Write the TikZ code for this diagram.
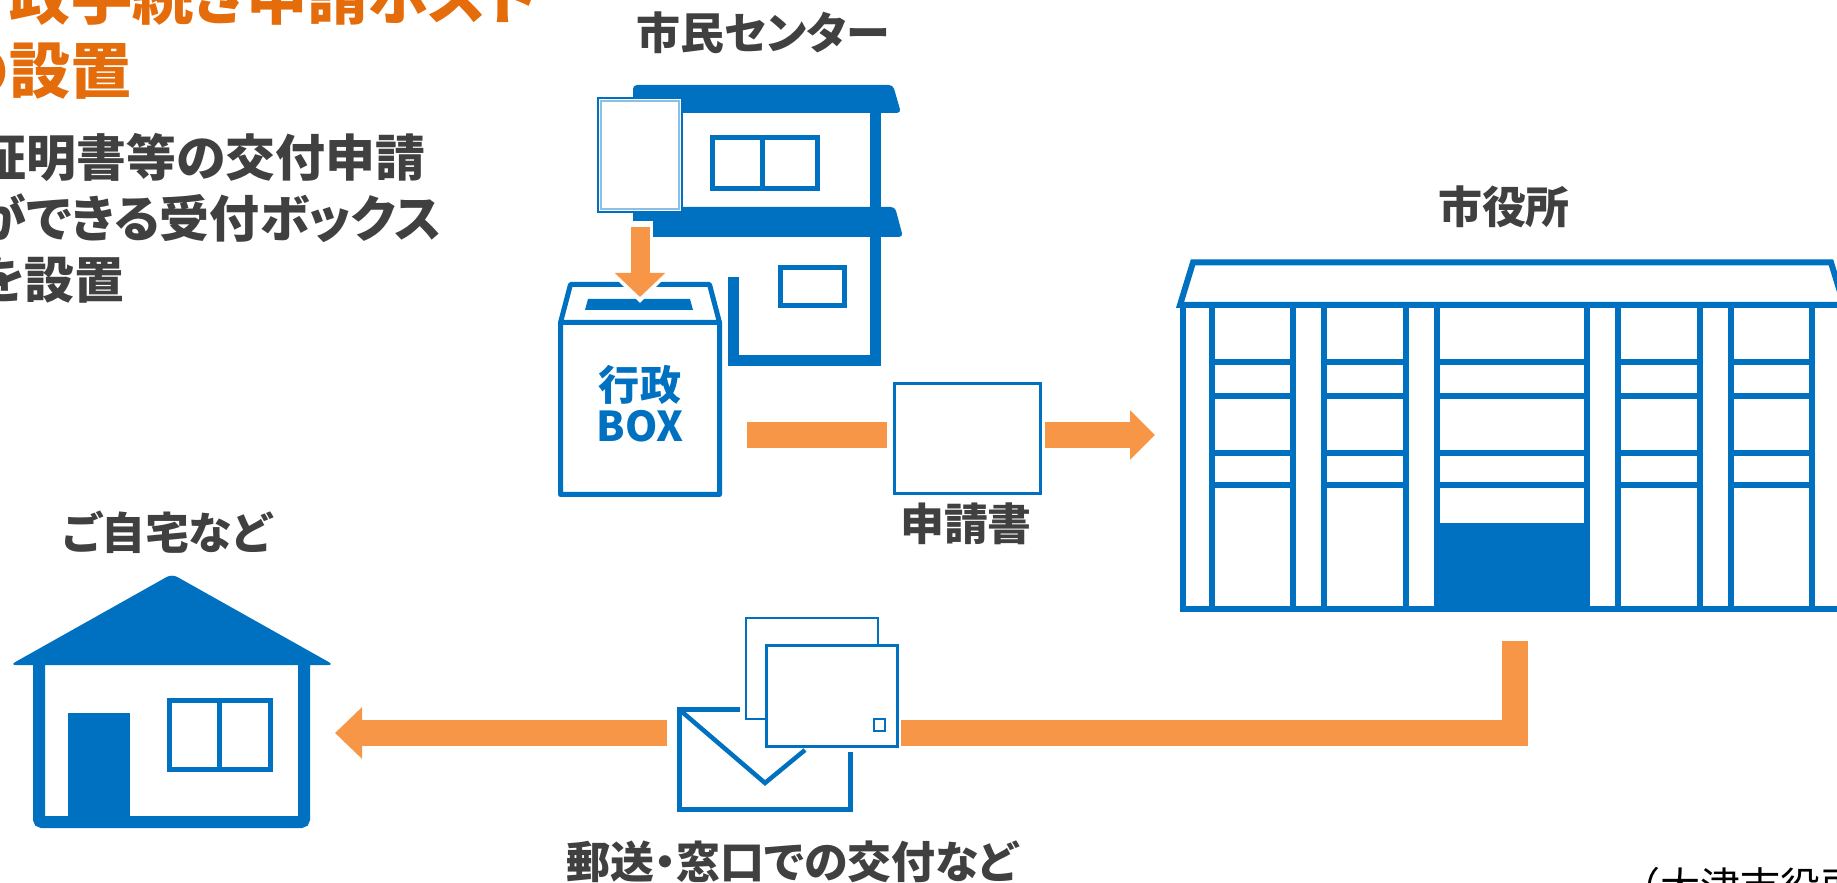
\documentclass[tikz,border=0pt]{standalone}
\usepackage{fontspec}
\setmainfont{Noto Sans CJK JP}[RawFeature=+palt]
\newfontfamily\srcfont{Noto Sans CJK JP}
\usetikzlibrary{arrows.meta,positioning}
\definecolor{cityblue}{RGB}{0,112,192}
\definecolor{flowcolor}{RGB}{247,150,70}
\definecolor{headcolor}{RGB}{228,108,10}
\definecolor{textgray}{RGB}{64,64,64}
\tikzset{
      flow/.style = {draw=flowcolor, line width=2.6mm, line join=miter},   % <--- thick orange flow
   flowarr/.style = {flow, -{Triangle[length=2.6mm, width=5mm]}},
      wall/.style = {draw=cityblue, line width=0.6mm, line join=miter},
      pane/.style = {draw=cityblue, line width=0.5mm},
     paper/.style = {draw=cityblue, fill=white, line width=0.3mm},
      head/.style = {font=\bfseries\fontsize{17.4pt}{21pt}\selectfont,
                     text=headcolor, inner sep=0pt},
      lead/.style = {font=\bfseries\fontsize{14.2pt}{17.4pt}\selectfont,
                     text=textgray, inner sep=0pt, align=left},
     label/.style = {font=\bfseries\fontsize{12.5pt}{15pt}\selectfont,
                     text=textgray, inner sep=0pt},
        }

\begin{document}
\begin{tikzpicture}[x=0.1mm, y=-0.1mm]
\useasboundingbox (0,0) rectangle (1837,883);
\clip (0,0) rectangle (1837,883);

% heading
\node[head, anchor=west] (head1) at (-52,-4) {行政手続き申請ポスト};
\node[head, anchor=west] (head2) at (-52,71.5) {の設置};
\node[lead, anchor=west] (lead) at (-24,218) {証明書等の交付申請\\ができる受付ボックス\\を設置};

% citizen centre
\node[label] (center-lbl) at (763,33) {市民センター};
\fill[cityblue, rounded corners=0.4mm] (633,85) -- (893,85) -- (901,113) -- (633,113) -- cycle;
\draw[cityblue, line width=1.1mm, line join=miter] (875,100) -- (875,361) -- (733.5,361) -- (733.5,277);
\fill[cityblue, rounded corners=0.4mm] (633,207) -- (895,207) -- (903,237) -- (633,237) -- cycle;
\draw[pane] (712.5,137.5) rectangle (817.5,188.5) (762.5,137.5) -- (762.5,188.5);
\draw[pane] (780.5,267.5) rectangle (844.5,305.5);

% drop box
\draw[cityblue, line width=0.5mm, line join=round] (560.5,322.5) rectangle (719.5,494.5)
   (560.5,322.5) -- (570.5,284.5) -- (709.5,284.5) -- (719.5,322.5);
\fill[cityblue] (585,310) -- (588,299) -- (690,299) -- (693,310) -- cycle;
\node[font=\bfseries\fontsize{11.7pt}{11.7pt}\selectfont, text=cityblue,
      align=center, inner sep=0pt] (box-lbl) at (640,404) {行政\\BOX};

% form going into the box
\draw[paper, line width=0.25mm] (598,98) rectangle (682,212);
\draw[cityblue!45, line width=0.15mm] (601,101) rectangle (679,209);
\coordinate (drop-top) at (640,227);
\coordinate (slot) at (640,297);
\draw[white, line width=2.5mm, -{Triangle[length=3.2mm, width=6.2mm]}] (640,221) -- (640,303);
\draw[flowcolor, line width=1.9mm, -{Triangle[length=2.4mm, width=4.9mm]}] (drop-top) -- (slot);

% application form on its way
\coordinate (box-out) at (747,435);
\coordinate (form-in) at (887,435);
\coordinate (form-out) at (1045,435);
\coordinate (hall-in) at (1155,435);
\draw[flow] (box-out) -- (form-in);
\draw[paper] (894.5,383.5) rectangle (1040.5,493.5);
\draw[flow, -{Triangle[length=2.5mm, width=4.8mm]}] (form-out) -- (hall-in);
\node[label] (form-lbl) at (966,524) {申請書};

% city hall
\node[label] (hall-lbl) at (1504,207) {市役所};
\draw[wall] (1180,305) -- (1193,262.5) -- (1831,262.5) -- (1844,305) -- cycle;
\fill[cityblue] (1434,523) rectangle (1590,612);
\draw[wall] (1183,305) rectangle (1841,609);
\foreach \x in {1212,1293,1324,1406,1437,1587,1618,1700,1731,1812}
  \draw[wall] (\x,305) -- (\x,609);
\foreach \a/\b in {1212/1293,1324/1406,1437/1587,1618/1700,1731/1812}
  \foreach \y in {362,396.5,453.5,485}
    \draw[wall] (\a,\y) -- (\b,\y);

% return flow
\coordinate (hall-out) at (1515,641);
\coordinate (mail-out) at (901,733);
\coordinate (mail-in) at (667,733);
\coordinate (home) at (335,733);
\draw[flow] (hall-out) |- (mail-out);
\draw[flow, -{Triangle[length=2.7mm, width=5mm]}] (mail-in) -- (home);

% envelope and certificates
\draw[cityblue, line width=0.5mm] (740,709.5) -- (679.5,709.5) -- (679.5,809) -- (850.5,809) -- (850.5,752);
\draw[cityblue, line width=0.45mm] (681,711) -- (765,783) -- (805,750);
\draw[paper, line width=0.25mm] (746,618) rectangle (878,719);
\draw[paper] (766,645) rectangle (897,746);
\draw[cityblue, line width=0.25mm] (874,719) rectangle (885,731);
\node[label] (mail-lbl) at (792,862) {郵送・窓口での交付など};

% home
\node[label] (home-lbl) at (167,532) {ご自宅など};
\fill[cityblue, rounded corners=0.6mm] (10,665) -- (172,574) -- (334,665) -- cycle;
\draw[cityblue, line width=1.2mm, rounded corners=0.3mm] (39,660) -- (39,822) -- (304,822) -- (304,660);
\fill[cityblue] (68,713) rectangle (130,822);
\draw[pane] (169.5,700.5) rectangle (270.5,769.5) (219,700.5) -- (219,769.5);

% source note
\node[font=\srcfont\fontsize{11.4pt}{12pt}\selectfont, anchor=west, inner sep=0pt] (src) at (1620,886) {（大津市役所};
\end{tikzpicture}
\end{document}
